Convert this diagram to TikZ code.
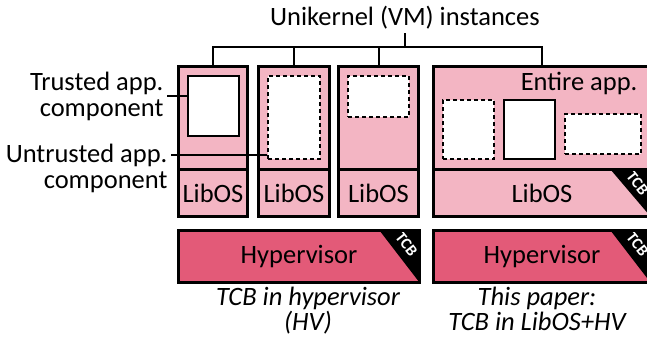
\documentclass[tikz,border=0pt]{standalone}
\usepackage{fontspec}
\setmainfont{Carlito}
\usetikzlibrary{positioning,calc}
\definecolor{vmpink}{HTML}{F3B5C3}
\definecolor{hvpink}{HTML}{E35A78}

\tikzset{
	vmbox/.style={draw, fill=vmpink, line width=3pt, inner sep=0pt},
	libos/.style={vmbox, anchor=south, minimum height=47pt},
	trusted/.style={draw, fill=white, line width=2pt, inner sep=0pt},
	untrusted/.style={trusted, dash pattern=on 4pt off 3pt},
	tcb/.style={path picture={
		\fill[black] (path picture bounding box.north east) -- ++(-40pt,0pt)
			-- (path picture bounding box.south east) -- cycle;
		\node[anchor=center, rotate=-52, text=white, inner sep=0pt,
			font=\fontsize{16}{16}\bfseries\selectfont]
			at ([shift={(-13pt,-14pt)}]path picture bounding box.north east) {TCB};}},
	hyper/.style={draw, fill=hvpink, line width=3pt, inner sep=0pt, minimum height=52pt, tcb},
	lab/.style={align=right, anchor=east},
	caption/.style={align=center, font=\fontsize{26.5}{25}\itshape\selectfont},
	link/.style={line width=2pt}
}

\begin{document}
\begin{tikzpicture}[x=1pt, y=-1pt, font=\fontsize{26.5}{26}\selectfont]
	\clip (0,0) rectangle (647,343);
	
	%
	% unikernel instances
	%
	\node (title) at (405,18) {Unikernel (VM) instances};
	\node [vmbox, minimum width=69pt, minimum height=150pt] (vm1) at (213,141.5) {};
	\node [vmbox, minimum width=71pt, minimum height=150pt] (vm2) at (294,141.5) {};
	\node [vmbox, minimum width=80pt, minimum height=150pt] (vm3) at (378.5,141.5) {};
	\node [vmbox, minimum width=217pt, minimum height=150pt] (vm4) at (542,141.5) {};
	
	\node [libos, minimum width=69pt] (los1) at (vm1.south) {LibOS};
	\node [libos, minimum width=71pt] (los2) at (vm2.south) {LibOS};
	\node [libos, minimum width=80pt] (los3) at (vm3.south) {LibOS};
	\node [libos, tcb, minimum width=217pt] (los4) at (vm4.south) {LibOS};
	
	%
	% app components
	%
	\node [trusted, minimum width=51pt, minimum height=60pt] (t1) at (213.5,106) {};
	\node [untrusted, minimum width=52pt, minimum height=83pt] (u2) at (294,117.5) {};
	\node [untrusted, minimum width=61pt, minimum height=41pt] (u3) at (378.5,96.5) {};
	\node [untrusted, minimum width=51pt, minimum height=59pt] (u4a) at (468.5,129.5) {};
	\node [trusted, minimum width=51pt, minimum height=59pt] (t4) at (529.5,129.5) {};
	\node [untrusted, minimum width=76pt, minimum height=40pt] (u4b) at (603,134) {};
	\node [anchor=east] (entire) at (641,83) {Entire app.};
	
	\coordinate (fork) at (408,47);
	\begin{scope}[link]
		\draw (title.south) -- (title.south |- fork);
		\draw (vm1.north) |- (fork) -| (vm4.north);
		\draw (vm2.north) -- (vm2.north |- fork);
		\draw (vm3.north) -- (vm3.north |- fork);
	\end{scope}
	
	%
	% labels
	%
	\node [lab] (tlab) at (167,96) {Trusted app.\\component};
	\node [lab] (ulab) at (171,168) {Untrusted app.\\component};
	\coordinate (ulink) at ([yshift=13pt]ulab.east);
	
	\begin{scope}[link]
		\draw (tlab.east) -- (tlab.east -| t1.west);
		\draw (ulink) -- (ulink -| u2.west);
	\end{scope}
	
	%
	% hypervisors
	%
	\node [hyper, minimum width=241pt] (hv1) at (299,256.5) {Hypervisor};
	\node [hyper, minimum width=217pt] (hv2) at (542,256.5) {Hypervisor};
	
	\node [caption, below=0pt of hv1, xshift=9pt] (cap1) {TCB in hypervisor\\(HV)};
	\node [caption, below=0pt of hv2, xshift=-5pt] (cap2) {This paper:\\TCB in LibOS+HV};
	
\end{tikzpicture}
\end{document}
